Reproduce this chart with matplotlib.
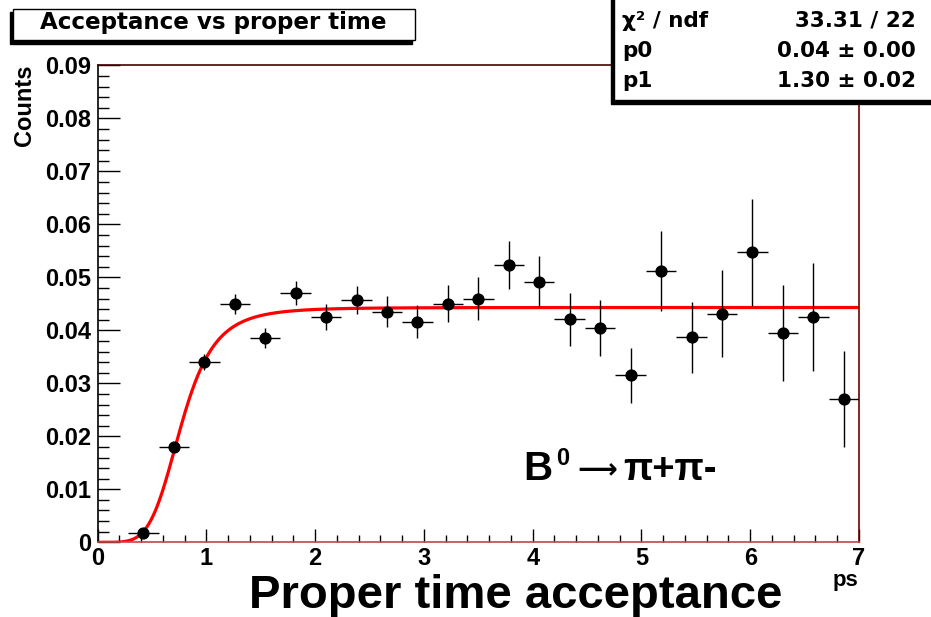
import numpy as np
import matplotlib
matplotlib.use('Agg')
import matplotlib.pyplot as plt
from matplotlib.patches import Rectangle
from matplotlib.ticker import MultipleLocator, FixedFormatter, FixedLocator

# ---- data ----
time_centers = [0.42, 0.70, 0.98, 1.26, 1.54, 1.82, 2.10, 2.38, 2.66, 2.94, 3.22, 3.50,
                3.78, 4.06, 4.34, 4.62, 4.90, 5.18, 5.46, 5.74, 6.02, 6.30, 6.58, 6.86]
acceptance = [0.0017, 0.0179, 0.0340, 0.0449, 0.0386, 0.0470, 0.0425, 0.0457, 0.0435, 0.0416,
              0.0450, 0.0460, 0.0523, 0.0492, 0.0421, 0.0404, 0.0315, 0.0512, 0.0387, 0.0431,
              0.0547, 0.0395, 0.0425, 0.0270]
acc_err = [0.0003, 0.0008, 0.0015, 0.0019, 0.0019, 0.0023, 0.0024, 0.0027, 0.0029, 0.0031,
           0.0035, 0.0040, 0.0046, 0.0048, 0.0050, 0.0053, 0.0052, 0.0075, 0.0067, 0.0082,
           0.0101, 0.0090, 0.0102, 0.0091]
half_bin = 0.14
fit_p0 = 0.0443
fit_p1 = 1.30
fit_power = 5
x_ticks = [0, 1, 2, 3, 4, 5, 6, 7]
y_ticks = [0, 0.01, 0.02, 0.03, 0.04, 0.05, 0.06, 0.07, 0.08, 0.09]
y_tick_labels = ['0', '0.01', '0.02', '0.03', '0.04', '0.05', '0.06', '0.07', '0.08', '0.09']
stats_rows = [('χ² / ndf', '33.31 / 22'), ('p0', '0.04 ± 0.00'), ('p1', '1.30 ± 0.02')]
title = 'Acceptance vs proper time'

W, H = 931, 617
plt.rcParams['font.family'] = ['Liberation Sans', 'DejaVu Sans']
plt.rcParams['font.weight'] = 'bold'

fig = plt.figure(figsize=(W / 100, H / 100), dpi=100)
fig.patch.set_facecolor('white')

def P(x, y):
    return (x / W, 1 - y / H)

L, R, T, B = 97.7, 859.0, 65.3, 542.3
ax = fig.add_axes([L / W, 1 - B / H, (R - L) / W, (B - T) / H])
ax.set_xlim(0, 7)
ax.set_ylim(0, 0.09)

# fit curve
tt = np.linspace(0, 7, 800)
u = (fit_p1 * tt) ** fit_power
ax.plot(tt, fit_p0 * u / (1 + u), color='#ff0000', lw=2.3, zorder=2)

# data points
ax.errorbar(time_centers, acceptance, yerr=acc_err, xerr=half_bin, fmt='o', color='black',
            ms=7.8, elinewidth=1.0, capsize=0, zorder=3)

# ticks
ax.xaxis.set_major_locator(FixedLocator(x_ticks))
ax.xaxis.set_minor_locator(MultipleLocator(0.2))
ax.yaxis.set_major_locator(FixedLocator(y_ticks))
ax.yaxis.set_major_formatter(FixedFormatter(y_tick_labels))
ax.yaxis.set_minor_locator(MultipleLocator(0.002))
ax.tick_params(axis='both', which='both', direction='in', top=False, right=False, color='black', width=1)
ax.tick_params(axis='y', which='major', length=15.8, pad=4.5, labelsize=17)
ax.tick_params(axis='y', which='minor', length=7.9)
ax.tick_params(axis='x', which='major', length=9.4, pad=3.5, labelsize=17)
ax.tick_params(axis='x', which='minor', length=5)
for lab in ax.get_xticklabels() + ax.get_yticklabels():
    lab.set_fontweight('bold')

ax.spines['left'].set_color('black')
ax.spines['bottom'].set_color('#c04848')
ax.spines['top'].set_color('#4a0000')
ax.spines['right'].set_color('#700000')
for s in ax.spines.values():
    s.set_linewidth(1.2)

# axis titles
fig.text(*P(25, 64), 'Counts', rotation=90, ha='center', va='top', fontsize=17, fontweight='bold')
fig.text(*P(516, 608), 'Proper time acceptance', ha='center', va='baseline', fontsize=34, fontweight='bold')
fig.text(*P(858, 586), 'ps', ha='right', va='baseline', fontsize=16, fontweight='bold')

# annotation  B0 -> pi+ pi-
fig.text(*P(523, 480), 'B', ha='left', va='baseline', fontsize=29, fontweight='bold')
fig.text(*P(556, 465), '0', ha='left', va='baseline', fontsize=17, fontweight='bold')
fig.text(*P(597, 478), '⟶', ha='center', va='baseline', fontsize=20,
         family='DejaVu Sans', fontweight='bold')
fig.text(*P(623, 480), 'π+π-', ha='left', va='baseline', fontsize=27.5, fontweight='bold')

def box(x0, y0, x1, y1, dx=-3.5, dy=3.5):
    sx0, sy0 = P(x0 + dx, y1 + dy)
    sw, sh = (x1 - x0) / W, (y1 - y0) / H
    fig.patches.append(Rectangle((sx0, sy0), sw, sh, transform=fig.transFigure,
                                 facecolor='black', edgecolor='black', lw=1, zorder=5))
    bx0, by0 = P(x0, y1)
    fig.patches.append(Rectangle((bx0, by0), sw, sh, transform=fig.transFigure,
                                 facecolor='white', edgecolor='black', lw=1, zorder=6))

# title box
box(13, 9, 415, 40)
fig.text(*P(213, 29.5), title, ha='center', va='baseline', fontsize=16.6,
         family='DejaVu Sans', fontweight='bold', zorder=7)

# stats box
box(614, -6, 936, 100)
baselines = [27, 57, 87]
for (k, v), yb in zip(stats_rows, baselines):
    fig.text(*P(622, yb), k, ha='left', va='baseline', fontsize=15.5, family='DejaVu Sans',
             fontweight='bold', zorder=7)
    fig.text(*P(916, yb), v, ha='right', va='baseline', fontsize=15.5, family='DejaVu Sans',
             fontweight='bold', zorder=7)

fig.savefig('out.png', dpi=100)
